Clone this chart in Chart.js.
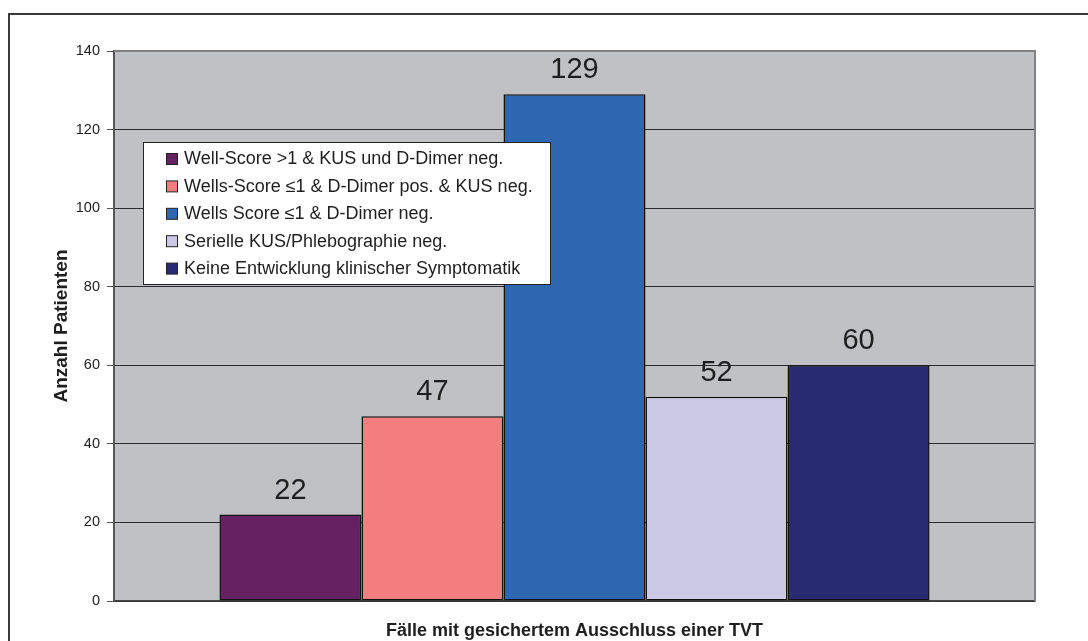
<!DOCTYPE html>
<html>
<head>
<meta charset="utf-8">
<script src="https://cdn.jsdelivr.net/npm/chart.js@4"></script>
<style>
  html, body { margin: 0; padding: 0; background: #fff; }
  #wrap { width: 1088px; height: 641px; position: relative; }
</style>
</head>
<body>
<div id="wrap"><canvas id="c" width="1088" height="641"></canvas></div>
<script>
// Patient counts per exclusion pathway (one category, five series)
const categories = [''];
const seriesNames = [
  'Well-Score >1 & KUS und D-Dimer neg.',
  'Wells-Score \u22641 & D-Dimer pos. & KUS neg.',
  'Wells Score \u22641 & D-Dimer neg.',
  'Serielle KUS/Phlebographie neg.',
  'Keine Entwicklung klinischer Symptomatik'
];
const seriesValues = [22, 47, 129, 52, 60];
const seriesColors = ['#652263', '#f37d7f', '#2e67b1', '#ccc9e6', '#282a72'];
const yTicks = [0, 20, 40, 60, 80, 100, 120, 140];

const FONT = '"Liberation Sans", Arial, Helvetica, sans-serif';

// Outer frame and grey plot background
const framePlugin = {
  id: 'frame',
  beforeDraw(chart) {
    const ctx = chart.ctx;
    const a = chart.chartArea;
    ctx.save();
    ctx.fillStyle = '#fff';
    ctx.fillRect(0, 0, chart.width, chart.height);
    ctx.strokeStyle = '#3a3a3a';
    ctx.lineWidth = 2;
    ctx.strokeRect(9, 14, 1200, 1200);
    ctx.fillStyle = '#c0c1c5';
    ctx.fillRect(a.left, a.top, a.right - a.left, a.bottom - a.top);
    ctx.restore();
  },
  afterDraw(chart) {
    const ctx = chart.ctx;
    const a = chart.chartArea;
    ctx.save();
    ctx.strokeStyle = '#808080';
    ctx.lineWidth = 2;
    ctx.beginPath();
    ctx.moveTo(a.left, a.top);
    ctx.lineTo(a.right, a.top);
    ctx.lineTo(a.right, a.bottom);
    ctx.stroke();
    ctx.restore();
  }
};

// Value labels above each bar
const valueLabelPlugin = {
  id: 'valueLabels',
  afterDatasetsDraw(chart) {
    const ctx = chart.ctx;
    ctx.save();
    ctx.font = '29px ' + FONT;
    ctx.fillStyle = '#1e1e1e';
    ctx.textAlign = 'center';
    ctx.textBaseline = 'alphabetic';
    chart.data.datasets.forEach((ds, i) => {
      const meta = chart.getDatasetMeta(i);
      meta.data.forEach((bar, j) => {
        ctx.fillText(String(ds.data[j]), bar.x, bar.y - 16);
      });
    });
    ctx.restore();
  }
};

// Boxed legend floating inside the plot area
const boxLegendPlugin = {
  id: 'boxLegend',
  afterDraw(chart) {
    const ctx = chart.ctx;
    const x = 143.5, y = 142.5, w = 407, h = 142;
    ctx.save();
    ctx.fillStyle = '#fff';
    ctx.fillRect(x, y, w, h);
    ctx.strokeStyle = '#222';
    ctx.lineWidth = 1;
    ctx.strokeRect(x, y, w, h);
    ctx.font = '18px ' + FONT;
    ctx.textBaseline = 'middle';
    ctx.textAlign = 'left';
    chart.data.datasets.forEach((ds, i) => {
      const cy = 158.5 + i * 27.4;
      ctx.fillStyle = ds.backgroundColor;
      ctx.fillRect(166.5, cy - 5, 11, 11);
      ctx.strokeStyle = '#222';
      ctx.strokeRect(166.5, cy - 5, 11, 11);
      ctx.fillStyle = '#1e1e1e';
      ctx.fillText(ds.label, 184, cy + 1);
    });
    ctx.restore();
  }
};

const datasets = seriesNames.map((name, i) => ({
  label: name,
  data: [seriesValues[i]],
  backgroundColor: seriesColors[i],
  borderColor: '#111',
  borderWidth: 1.5,
  borderSkipped: false,
  barPercentage: 1,
  categoryPercentage: 0.771
}));

new Chart(document.getElementById('c'), {
  type: 'bar',
  data: { labels: categories, datasets },
  options: {
    responsive: false,
    animation: false,
    devicePixelRatio: 1,
    layout: { padding: { top: 51, right: 53, bottom: 0, left: 0 } },
    plugins: {
      legend: { display: false },
      tooltip: { enabled: false }
    },
    scales: {
      x: {
        grid: { display: false, drawTicks: false },
        border: { display: true, color: '#444', width: 1.5 },
        ticks: { display: false },
        title: {
          display: true,
          text: 'F\u00e4lle mit gesichertem Ausschluss einer TVT',
          font: { family: FONT, size: 18, weight: 'bold' },
          color: '#1e1e1e',
          padding: { top: 0, bottom: -1 }
        },
        afterFit(scale) { scale.height = 40; }
      },
      y: {
        min: 0,
        max: 140,
        afterBuildTicks(scale) { scale.ticks = yTicks.map(v => ({ value: v })); },
        grid: {
          color: '#2a2a2a',
          lineWidth: 1,
          drawTicks: true,
          tickLength: 7,
          tickColor: '#555'
        },
        border: { display: true, color: '#555', width: 2 },
        ticks: {
          padding: 7,
          font: { family: FONT, size: 14.5 },
          color: '#1e1e1e'
        },
        title: {
          display: true,
          text: 'Anzahl Patienten',
          font: { family: FONT, size: 19, weight: 'bold' },
          color: '#1e1e1e',
          padding: { top: 50, bottom: 0 }
        },
        afterFit(scale) { scale.width = 114; }
      }
    }
  },
  plugins: [framePlugin, valueLabelPlugin, boxLegendPlugin]
});
</script>
</body>
</html>
